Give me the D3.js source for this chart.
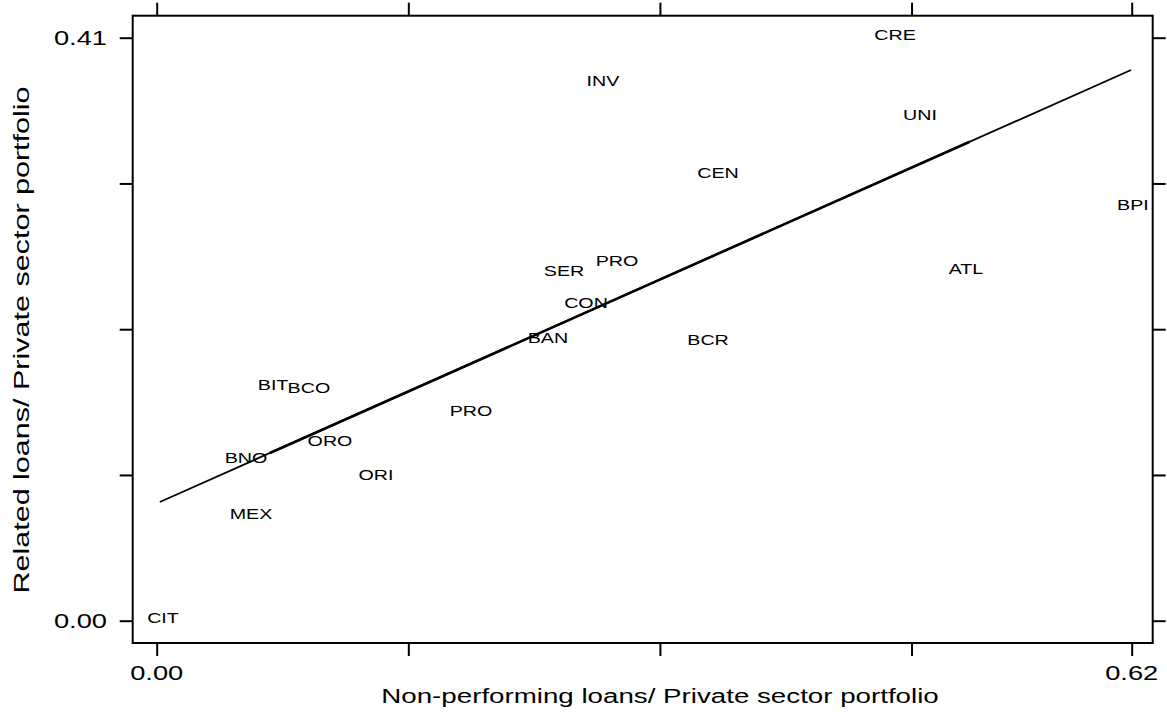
<!DOCTYPE html>
<html>
<head>
<meta charset="utf-8">
<script src="https://cdn.jsdelivr.net/npm/d3@7"></script>
<style>
  html, body { margin: 0; padding: 0; background: #fff; }
  svg text { font-family: "Liberation Sans", Arial, sans-serif; fill: #000; }
</style>
</head>
<body>
<svg id="chart" width="1167" height="717"></svg>
<script>
// Bank codes and their ratios
const banks = ["CRE","INV","UNI","CEN","BPI","PRO","SER","ATL","CON","BAN","BCR","BIT","BCO","PRO","ORO","BNO","ORI","MEX","CIT"];
const nplRatio = [0.4695,0.2838,0.4854,0.3569,0.6208,0.2927,0.2590,0.5146,0.2730,0.2488,0.3506,0.0740,0.0968,0.1999,0.1102,0.0568,0.1394,0.0600,0.0040];
const relatedRatio = [0.4105,0.3781,0.3542,0.3134,0.2909,0.2516,0.2445,0.2459,0.2220,0.1974,0.1960,0.1644,0.1622,0.1461,0.1250,0.1130,0.1011,0.0736,0.0000];

// Fitted line (full range) and its overlapping middle stretch
const fitX = [0.002, 0.6196];
const fitY = [0.0835, 0.3873];
const fitMidX = [0.072, 0.517];

// Axis ticks
const xTicks = [0, 0.16, 0.32, 0.48, 0.62];
const xTickLabels = {0: "0.00", 0.62: "0.62"};
const yTicks = [0, 0.1025, 0.205, 0.3075, 0.41];
const yTickLabels = {0: "0.00", 0.41: "0.41"};

const xTitle = "Non-performing loans/ Private sector portfolio";
const yTitle = "Related loans/ Private sector portfolio";

const svg = d3.select("#chart");
const frame = {left: 132.7, right: 1152.7, top: 15.7, bottom: 643};

const x = d3.scaleLinear().domain([0, 0.62]).range([156.7, 1131.7]);
const y = d3.scaleLinear().domain([0, 0.41]).range([620.7, 37.7]);

// plot frame
svg.append("rect")
  .attr("x", frame.left).attr("y", frame.top)
  .attr("width", frame.right - frame.left).attr("height", frame.bottom - frame.top)
  .attr("fill", "none").attr("stroke", "#000").attr("stroke-width", 2);

const tickLen = 13;
const fmtKey = v => String(v);

// ticks on all four sides
const bottomAxis = d3.axisBottom(x).tickValues(xTicks).tickSize(tickLen).tickFormat(() => "");
const topAxis = d3.axisTop(x).tickValues(xTicks).tickSize(tickLen).tickFormat(() => "");
const leftAxis = d3.axisLeft(y).tickValues(yTicks).tickSize(tickLen).tickFormat(() => "");
const rightAxis = d3.axisRight(y).tickValues(yTicks).tickSize(tickLen).tickFormat(() => "");

function styleAxis(g) {
  g.select(".domain").remove();
  g.selectAll(".tick line").attr("stroke", "#000").attr("stroke-width", 2);
}
svg.append("g").attr("transform", `translate(0,${frame.bottom})`).call(bottomAxis).call(styleAxis);
svg.append("g").attr("transform", `translate(0,${frame.top})`).call(topAxis).call(styleAxis);
svg.append("g").attr("transform", `translate(${frame.left},0)`).call(leftAxis).call(styleAxis);
svg.append("g").attr("transform", `translate(${frame.right},0)`).call(rightAxis).call(styleAxis);

// helper: horizontally widened text
function wideText(g, tx, ty, str, size, anchor, rotate, stretch) {
  const s = stretch || 1.3;
  return g.append("text")
    .attr("transform", `translate(${tx},${ty})${rotate ? " rotate(" + rotate + ")" : ""} scale(${s},1)`)
    .attr("text-anchor", anchor)
    .attr("font-size", size)
    .text(str);
}

const labels = svg.append("g");
xTicks.filter(v => xTickLabels[fmtKey(v)] !== undefined).forEach(v => {
  wideText(labels, x(v), 680, xTickLabels[fmtKey(v)], 21, "middle");
});
yTicks.filter(v => yTickLabels[fmtKey(v)] !== undefined).forEach(v => {
  wideText(labels, 107, y(v) + 7.5, yTickLabels[fmtKey(v)], 21, "end");
});

// axis titles
wideText(labels, 660, 703, xTitle, 21, "middle", null, 1.32);
wideText(labels, 29, 340, yTitle, 21.5, "middle", -90, 1.42);

// fitted line
const line = d3.line().x(d => x(d[0])).y(d => y(d[1]));
const slope = (fitY[1] - fitY[0]) / (fitX[1] - fitX[0]);
const fitAt = v => fitY[0] + slope * (v - fitX[0]);
svg.append("path")
  .datum(fitX.map((v, i) => [v, fitY[i]]))
  .attr("d", line)
  .attr("fill", "none").attr("stroke", "#000").attr("stroke-width", 1.8);
svg.append("path")
  .datum(fitMidX.map(v => [v, fitAt(v)]))
  .attr("d", line)
  .attr("fill", "none").attr("stroke", "#000").attr("stroke-width", 2.6);

// bank labels at their points
const pts = svg.append("g");
banks.forEach((b, i) => {
  wideText(pts, x(nplRatio[i]), y(relatedRatio[i]) + 2.6, b, 15.5, "middle", null, 1.27);
});
</script>
</body>
</html>
